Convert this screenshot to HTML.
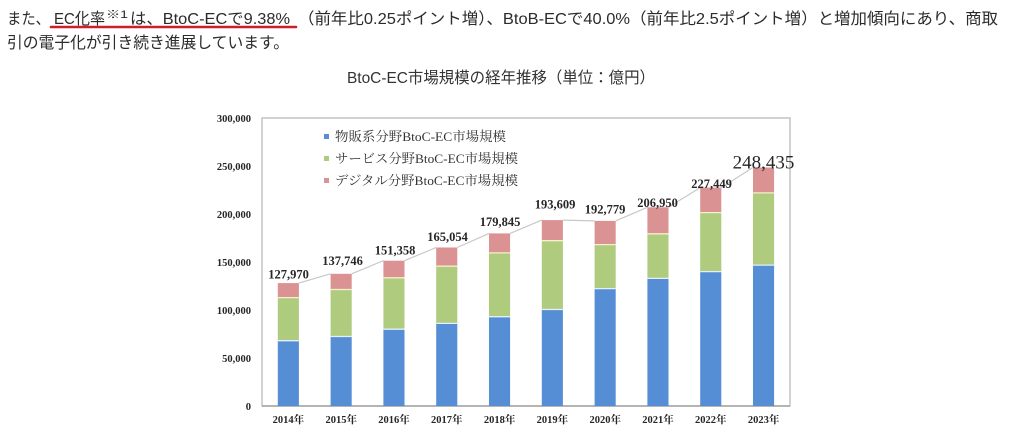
<!DOCTYPE html>
<html>
<head>
<meta charset="utf-8">
<style>
  html,body{margin:0;padding:0;background:#fff;}
  svg{display:block;}
  .jp{font-family:"Liberation Sans","Noto Sans CJK JP",sans-serif;fill:#2b2b2b;}
  .sf{font-family:"Liberation Serif","Noto Serif CJK SC",serif;fill:#262626;}
</style>
</head>
<body>
<svg width="1009" height="438" viewBox="0 0 1009 438" xmlns="http://www.w3.org/2000/svg">
  <!-- paragraph text -->
  <text class="jp" x="7" y="24" font-size="16" textLength="43" lengthAdjust="spacingAndGlyphs">また、</text>
  <text class="jp" x="54" y="24" font-size="16" textLength="51" lengthAdjust="spacingAndGlyphs">EC化率</text>
  <text class="jp" x="106" y="18" font-size="11" textLength="22" lengthAdjust="spacingAndGlyphs">※1</text>
  <text class="jp" x="130" y="24" font-size="16" textLength="160" lengthAdjust="spacingAndGlyphs">は、BtoC-ECで9.38%</text>
  <text class="jp" x="298" y="24" font-size="16" textLength="700" lengthAdjust="spacingAndGlyphs">（前年比0.25ポイント増）、BtoB-ECで40.0%（前年比2.5ポイント増）と増加傾向にあり、商取</text>
  <line x1="51" y1="27" x2="296" y2="27" stroke="#cc1f2a" stroke-width="2.6" stroke-linecap="round"/>
  <text class="jp" x="7" y="48" font-size="16" textLength="282" lengthAdjust="spacingAndGlyphs">引の電子化が引き続き進展しています。</text>

  <!-- title -->
  <text class="jp" x="347" y="83" font-size="16" textLength="308" lengthAdjust="spacingAndGlyphs" style="fill:#333">BtoC-EC市場規模の経年推移（単位：億円）</text>

  <!-- plot frame -->
  <rect x="262" y="118" width="528" height="288" fill="none" stroke="#b3b3b3" stroke-width="1.2"/>
  <line x1="262" y1="406" x2="790" y2="406" stroke="#a0a0a0" stroke-width="1.4"/>

  <!-- y tick labels -->
  <g class="sf" font-size="10.5" font-weight="bold" text-anchor="end">
    <text x="251" y="122">300,000</text>
    <text x="251" y="170">250,000</text>
    <text x="251" y="218">200,000</text>
    <text x="251" y="266">150,000</text>
    <text x="251" y="314">100,000</text>
    <text x="251" y="362">50,000</text>
    <text x="251" y="410">0</text>
  </g>

  <!-- legend -->
  <rect x="324" y="134" width="5" height="5" fill="#558ed5"/>
  <rect x="324" y="156" width="5" height="5" fill="#afcb7e"/>
  <rect x="324" y="178" width="5" height="5" fill="#db9293"/>
  <g class="sf" font-size="13" style="fill:#333">
    <text x="335" y="141" textLength="171" lengthAdjust="spacingAndGlyphs">物販系分野BtoC-EC市場規模</text>
    <text x="335" y="163" textLength="183" lengthAdjust="spacingAndGlyphs">サービス分野BtoC-EC市場規模</text>
    <text x="335" y="185" textLength="183" lengthAdjust="spacingAndGlyphs">デジタル分野BtoC-EC市場規模</text>
  </g>

  <!-- series lines (top right of bar i to top left of bar i+1) -->
  <g stroke="#c8c8c8" stroke-width="1.2" fill="none">
    <polyline points="298.9,283.1 330.6,273.8"/>
    <polyline points="351.7,273.8 383.4,260.7"/>
    <polyline points="404.5,260.7 436.2,247.5"/>
    <polyline points="457.3,247.5 489.0,233.4"/>
    <polyline points="510.1,233.4 541.8,220.1"/>
    <polyline points="562.9,220.1 594.6,220.9"/>
    <polyline points="615.7,220.9 647.4,207.3"/>
    <polyline points="668.5,207.3 700.2,187.6"/>
    <polyline points="721.3,187.6 753.0,167.5"/>
  </g>

  <!-- bars -->
  <g id="bars">
    <!-- 2014 -->
    <rect x="277.8" y="340.7" width="21.1" height="65.3" fill="#558ed5"/>
    <rect x="277.8" y="297.6" width="21.1" height="43.1" fill="#afcb7e"/>
    <rect x="277.8" y="283.1" width="21.1" height="14.5" fill="#db9293"/>
    <!-- 2015 -->
    <rect x="330.6" y="336.5" width="21.1" height="69.5" fill="#558ed5"/>
    <rect x="330.6" y="289.5" width="21.1" height="47.0" fill="#afcb7e"/>
    <rect x="330.6" y="273.8" width="21.1" height="15.7" fill="#db9293"/>
    <!-- 2016 -->
    <rect x="383.4" y="329.2" width="21.1" height="76.8" fill="#558ed5"/>
    <rect x="383.4" y="277.8" width="21.1" height="51.4" fill="#afcb7e"/>
    <rect x="383.4" y="260.7" width="21.1" height="17.1" fill="#db9293"/>
    <!-- 2017 -->
    <rect x="436.2" y="323.4" width="21.1" height="82.6" fill="#558ed5"/>
    <rect x="436.2" y="266.2" width="21.1" height="57.2" fill="#afcb7e"/>
    <rect x="436.2" y="247.5" width="21.1" height="18.7" fill="#db9293"/>
    <!-- 2018 -->
    <rect x="489.0" y="316.7" width="21.1" height="89.3" fill="#558ed5"/>
    <rect x="489.0" y="252.9" width="21.1" height="63.8" fill="#afcb7e"/>
    <rect x="489.0" y="233.4" width="21.1" height="19.5" fill="#db9293"/>
    <!-- 2019 -->
    <rect x="541.8" y="309.5" width="21.1" height="96.5" fill="#558ed5"/>
    <rect x="541.8" y="240.7" width="21.1" height="68.8" fill="#afcb7e"/>
    <rect x="541.8" y="220.1" width="21.1" height="20.6" fill="#db9293"/>
    <!-- 2020 -->
    <rect x="594.6" y="288.6" width="21.1" height="117.4" fill="#558ed5"/>
    <rect x="594.6" y="244.6" width="21.1" height="44.0" fill="#afcb7e"/>
    <rect x="594.6" y="220.9" width="21.1" height="23.7" fill="#db9293"/>
    <!-- 2021 -->
    <rect x="647.4" y="278.4" width="21.1" height="127.6" fill="#558ed5"/>
    <rect x="647.4" y="233.8" width="21.1" height="44.6" fill="#afcb7e"/>
    <rect x="647.4" y="207.3" width="21.1" height="26.5" fill="#db9293"/>
    <!-- 2022 -->
    <rect x="700.2" y="271.6" width="21.1" height="134.4" fill="#558ed5"/>
    <rect x="700.2" y="212.6" width="21.1" height="59.0" fill="#afcb7e"/>
    <rect x="700.2" y="187.6" width="21.1" height="25.0" fill="#db9293"/>
    <!-- 2023 -->
    <rect x="753.0" y="265.1" width="21.1" height="140.9" fill="#558ed5"/>
    <rect x="753.0" y="192.9" width="21.1" height="72.2" fill="#afcb7e"/>
    <rect x="753.0" y="167.5" width="21.1" height="25.4" fill="#db9293"/>
  </g>

  <!-- segment separators -->
  <g stroke-width="1.3">
    <g stroke="#e6eff8">
      <line x1="277.8" y1="340.7" x2="298.9" y2="340.7"/>
      <line x1="330.6" y1="336.5" x2="351.7" y2="336.5"/>
      <line x1="383.4" y1="329.2" x2="404.5" y2="329.2"/>
      <line x1="436.2" y1="323.4" x2="457.3" y2="323.4"/>
      <line x1="489.0" y1="316.7" x2="510.1" y2="316.7"/>
      <line x1="541.8" y1="309.5" x2="562.9" y2="309.5"/>
      <line x1="594.6" y1="288.6" x2="615.7" y2="288.6"/>
      <line x1="647.4" y1="278.4" x2="668.5" y2="278.4"/>
      <line x1="700.2" y1="271.6" x2="721.3" y2="271.6"/>
      <line x1="753.0" y1="265.1" x2="774.1" y2="265.1"/>
    </g>
    <g stroke="#f6efcc">
      <line x1="277.8" y1="297.6" x2="298.9" y2="297.6"/>
      <line x1="330.6" y1="289.5" x2="351.7" y2="289.5"/>
      <line x1="383.4" y1="277.8" x2="404.5" y2="277.8"/>
      <line x1="436.2" y1="266.2" x2="457.3" y2="266.2"/>
      <line x1="489.0" y1="252.9" x2="510.1" y2="252.9"/>
      <line x1="541.8" y1="240.7" x2="562.9" y2="240.7"/>
      <line x1="594.6" y1="244.6" x2="615.7" y2="244.6"/>
      <line x1="647.4" y1="233.8" x2="668.5" y2="233.8"/>
      <line x1="700.2" y1="212.6" x2="721.3" y2="212.6"/>
      <line x1="753.0" y1="192.9" x2="774.1" y2="192.9"/>
    </g>
  </g>

  <!-- data labels -->
  <g class="sf" font-size="12.5" font-weight="bold" text-anchor="middle">
    <text x="288.5" y="278.5">127,970</text>
    <text x="342.5" y="265.2">137,746</text>
    <text x="395" y="254.5">151,358</text>
    <text x="447.5" y="241.2">165,054</text>
    <text x="500" y="225.8">179,845</text>
    <text x="555" y="208.5">193,609</text>
    <text x="605" y="213.5">192,779</text>
    <text x="657.5" y="207.2">206,950</text>
    <text x="711.5" y="187.8">227,449</text>
  </g>
  <text class="sf" x="763.5" y="168.5" font-size="19" text-anchor="middle">248,435</text>

  <!-- x labels -->
  <g class="sf" font-size="10.5" font-weight="bold" text-anchor="middle">
    <text x="288.4" y="423">2014年</text>
    <text x="341.2" y="423">2015年</text>
    <text x="394.0" y="423">2016年</text>
    <text x="446.8" y="423">2017年</text>
    <text x="499.6" y="423">2018年</text>
    <text x="552.4" y="423">2019年</text>
    <text x="605.2" y="423">2020年</text>
    <text x="658.0" y="423">2021年</text>
    <text x="710.8" y="423">2022年</text>
    <text x="763.6" y="423">2023年</text>
  </g>
</svg>
</body>
</html>
